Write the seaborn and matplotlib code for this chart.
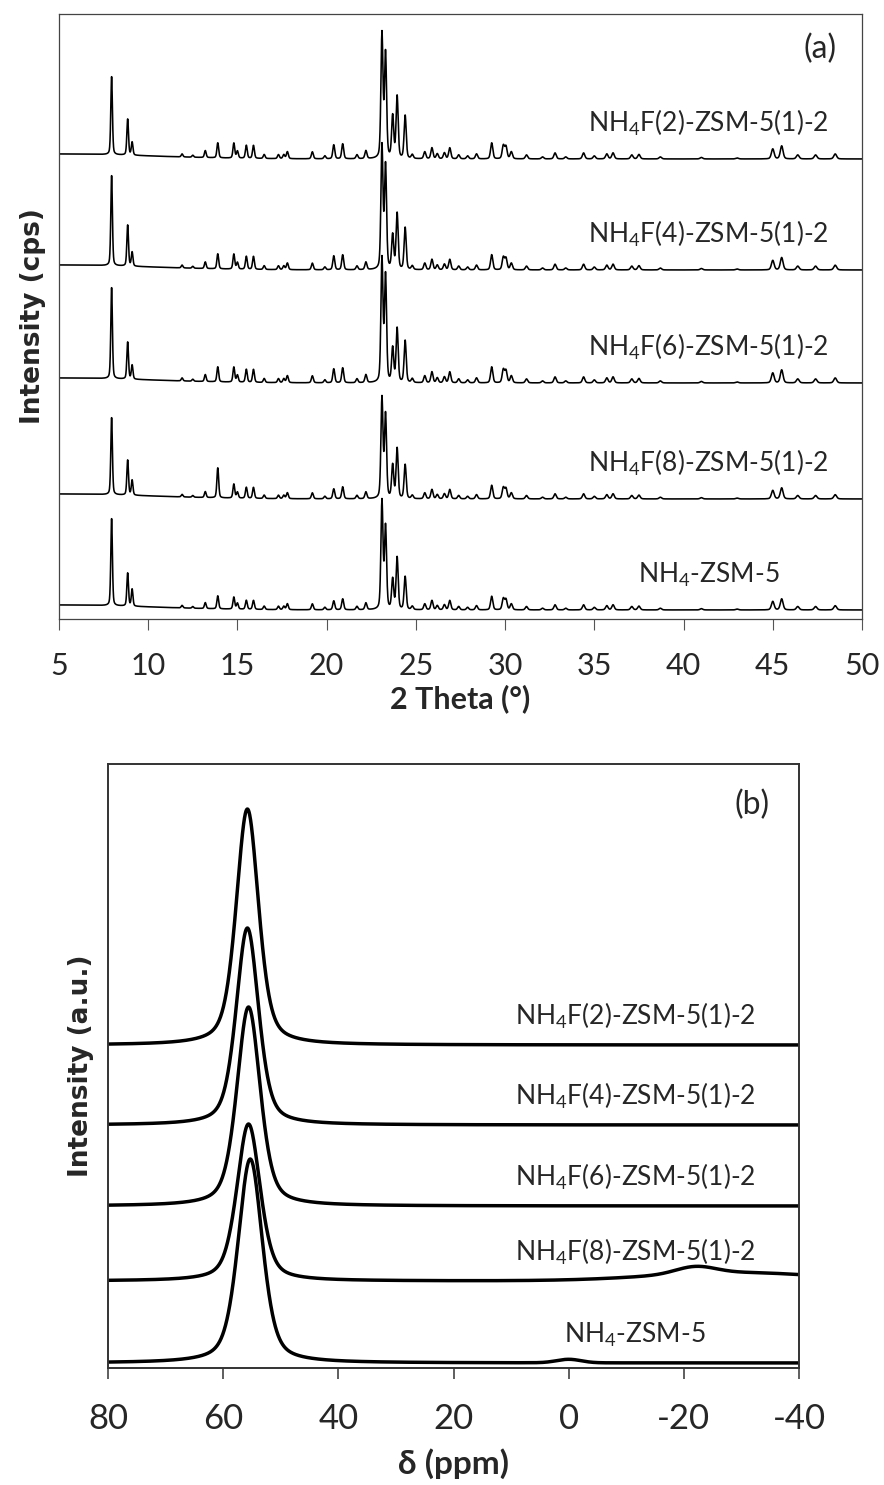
import numpy as np
import pandas as pd
import matplotlib
matplotlib.use("Agg")
import matplotlib.pyplot as plt
import seaborn as sns

# ---------------- data: (a) XRD ----------------
xrd_samples = ["NH$_4$-ZSM-5", "NH$_4$F(8)-ZSM-5(1)-2", "NH$_4$F(6)-ZSM-5(1)-2",
               "NH$_4$F(4)-ZSM-5(1)-2", "NH$_4$F(2)-ZSM-5(1)-2"]
xrd_offsets = [90, 1200, 2360, 3490, 4600]          # cps, bottom to top

# strong reflections (2theta, deg) and their heights per sample (cps)
xrd_main_pos = [7.95, 8.85, 9.10, 13.90, 14.80, 15.50, 15.90, 20.40, 20.90,
                23.10, 23.30, 23.70, 23.95, 24.40]
xrd_main_h = [
    [870, 330, 170, 130, 120, 90, 90, 90, 110, 1080, 820, 300, 520, 330],
    [770, 350, 150, 300, 140, 110, 110, 100, 120, 1000, 830, 330, 500, 340],
    [910, 370, 140, 150, 150, 130, 130, 140, 150, 1230, 1060, 340, 540, 420],
    [900, 410, 140, 150, 150, 130, 130, 140, 150, 1230, 1030, 340, 560, 420],
    [780, 360, 130, 150, 150, 130, 130, 140, 150, 1240, 1040, 420, 620, 430],
]

# weak reflections shared by all samples (2theta, cps)
xrd_minor_pos = [11.9, 12.5, 13.2, 15.0, 16.5, 17.3, 17.6, 17.8, 19.2, 19.9,
                 21.7, 22.2, 24.8, 25.5, 25.9, 26.2, 26.6, 26.9, 27.4, 27.9,
                 28.4, 29.25, 29.9, 30.05, 30.35, 31.2, 32.1, 32.8, 33.4, 34.4,
                 35.0, 35.7, 36.05, 37.1, 37.5, 38.7, 41.0, 43.0, 45.0, 45.5,
                 46.4, 47.4, 48.5]
xrd_minor_h = [30, 20, 70, 70, 40, 40, 40, 70, 70, 30,
               40, 80, 40, 70, 110, 50, 60, 110, 40, 30,
               50, 160, 130, 120, 70, 40, 20, 60, 20, 60,
               30, 50, 60, 40, 45, 20, 15, 10, 100, 130,
               40, 40, 50]
xrd_minor_scale = [0.85, 0.85, 1.0, 0.95, 1.0]
xrd_background = (5.0, 50, 12.0)        # low-angle background: centre, height, width

# ---------------- data: (b) 27Al NMR ----------------
nmr_samples = xrd_samples
nmr_offsets = [0.05, 0.87, 1.62, 2.43, 3.23]
nmr_peak_pos = [55.3, 55.6, 55.6, 55.8, 55.8]
nmr_peak_h = [2.04, 1.57, 1.99, 1.97, 2.36]
nmr_peak_fwhm = [5.0, 4.8, 4.8, 4.6, 4.6]
# extra weak signals: (sample index, ppm, height, width)
nmr_extra = [(0, 0.0, 0.035, 5.0),
             (1, -22.0, 0.07, 8.0),
             (1, -29.0, 0.085, 34.0)]


def pvoigt(x, pos, h, fwhm, eta):
    u = (x - pos) / fwhm
    return h * ((1 - eta) * np.exp(-4 * np.log(2) * u ** 2) + eta / (1 + 4 * u ** 2))


# build XRD table
tt = np.arange(5.0, 50.0001, 0.01)
rows = []
for i, name in enumerate(xrd_samples):
    y = np.full_like(tt, float(xrd_offsets[i]))
    y += pvoigt(tt, xrd_background[0], xrd_background[1], xrd_background[2], 0.0)
    for p, h in zip(xrd_main_pos, xrd_main_h[i]):
        y += pvoigt(tt, p, h, 0.10 + 0.002 * (p - 5), 0.35)
    for p, h in zip(xrd_minor_pos, xrd_minor_h):
        y += pvoigt(tt, p, h * xrd_minor_scale[i], 0.10 + 0.002 * (p - 5), 0.35)
    rows.append(pd.DataFrame({"two_theta": tt, "intensity": y, "sample": name}))
xrd = pd.concat(rows, ignore_index=True)

# build NMR table
ppm = np.linspace(80, -40, 2401)
rows = []
for i, name in enumerate(nmr_samples):
    y = np.full_like(ppm, nmr_offsets[i])
    y += pvoigt(ppm, nmr_peak_pos[i], nmr_peak_h[i], nmr_peak_fwhm[i], 0.45)
    for k, p, h, w in nmr_extra:
        if k == i:
            y += pvoigt(ppm, p, h, w, 0.0)
    rows.append(pd.DataFrame({"ppm": ppm, "intensity": y, "sample": name}))
nmr = pd.concat(rows, ignore_index=True)

# ---------------- style ----------------
sns.set_theme(style="ticks")
plt.rcParams["font.family"] = ["Lato", "DejaVu Sans"]
plt.rcParams["mathtext.fontset"] = "custom"
plt.rcParams["mathtext.rm"] = "Lato"
plt.rcParams["mathtext.default"] = "regular"
plt.rcParams["axes.unicode_minus"] = False

fig = plt.figure(figsize=(8.84, 14.85), dpi=100)
ax_a = fig.add_axes([0.0667, 0.5832, 0.9084, 0.4074])
ax_b = fig.add_axes([0.1222, 0.0788, 0.7817, 0.4067])

black = ["black"] * len(xrd_samples)

# ---- panel (a)
sns.lineplot(data=xrd, x="two_theta", y="intensity", hue="sample", palette=black,
             estimator=None, sort=False, legend=False, lw=1.15, ax=ax_a)
ax_a.set_xlim(5, 50)
ax_a.set_ylim(0, 6050)
ax_a.set_xticks(range(5, 51, 5))
ax_a.set_yticks([])
ax_a.tick_params(axis="x", direction="out", length=8, width=0.8, color="#555555",
                 labelsize=22, pad=16)
for s in ax_a.spines.values():
    s.set_color("#444444")
    s.set_linewidth(0.9)
ax_a.set_xlabel("2 Theta (°)", fontsize=22, fontweight="bold", labelpad=3)
ax_a.set_ylabel("Intensity (cps)", fontsize=19, fontweight="bold",
                family=["DejaVu Sans"])
ax_a.yaxis.set_label_coords(-0.016, 0.5)
for i, name in enumerate(xrd_samples):
    ax_a.text(41.4, xrd_offsets[i] + 270, name, ha="center", va="baseline", fontsize=19)
ax_a.text(0.969, 0.942, "(a)", transform=ax_a.transAxes, ha="right", va="center",
          fontsize=23)

# ---- panel (b)
sns.lineplot(data=nmr, x="ppm", y="intensity", hue="sample", palette=black,
             estimator=None, sort=False, legend=False, lw=2.5, ax=ax_b)
ax_b.set_xlim(80, -40)
ax_b.set_ylim(0, 6.04)
ax_b.set_xticks(range(80, -41, -20))
ax_b.set_yticks([])
ax_b.tick_params(axis="x", direction="out", length=8, width=1.1, color="#333333",
                 labelsize=25, pad=17)
for s in ax_b.spines.values():
    s.set_color("#333333")
    s.set_linewidth(1.4)
ax_b.set_xlabel("δ (ppm)", fontsize=24, fontweight="bold", labelpad=10)
ax_b.set_ylabel("Intensity (a.u.)", fontsize=19, fontweight="bold",
                family=["DejaVu Sans"])
ax_b.yaxis.set_label_coords(-0.02, 0.5)
for i, name in enumerate(nmr_samples):
    ax_b.text(-11.5, nmr_offsets[i] + 0.2, name, ha="center", va="baseline", fontsize=19)
ax_b.text(0.958, 0.932, "(b)", transform=ax_b.transAxes, ha="right", va="center",
          fontsize=23)

fig.savefig("out.png", dpi=100)
